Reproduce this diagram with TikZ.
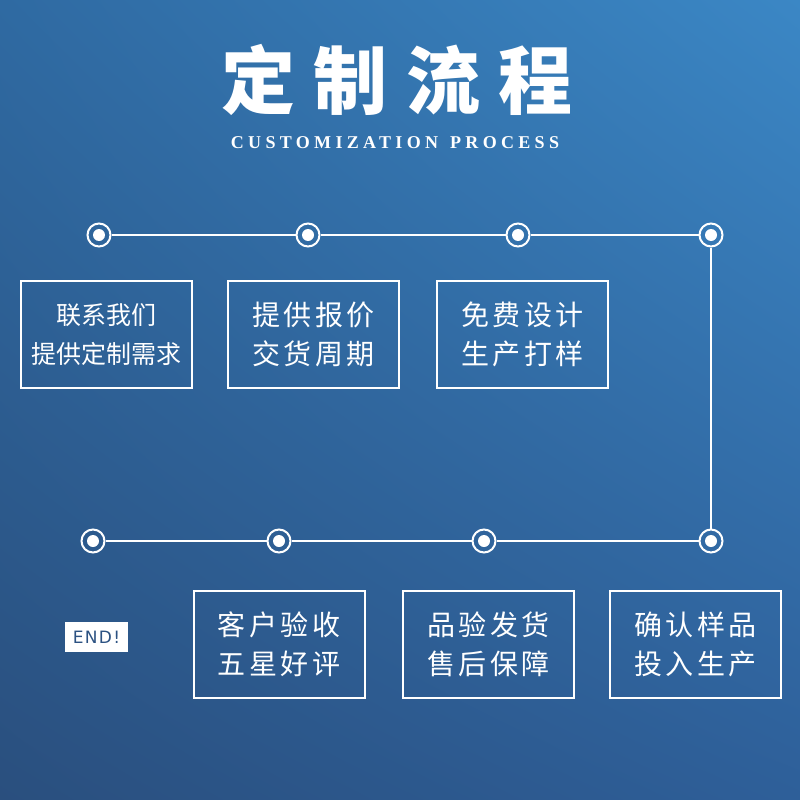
\documentclass[tikz,border=0pt]{standalone}
\usepackage{fontspec}
\usetikzlibrary{shadings}
\newfontfamily\cjk{Noto Sans CJK SC}
\newfontfamily\cjkwide[LetterSpace=12]{Noto Sans CJK SC}
\newfontfamily\cjktitle[LetterSpace=25]{Noto Sans CJK SC}
\newfontfamily\subfont[LetterSpace=24]{Liberation Serif}
\newfontfamily\endfont[LetterSpace=8]{DejaVu Sans}

\definecolor{bgtl}{HTML}{2F6AA2}
\definecolor{bgtr}{HTML}{3B87C5}
\definecolor{bgbl}{HTML}{2A4F7E}
\definecolor{bgbr}{HTML}{2E5F99}
\definecolor{endblue}{HTML}{2C5282}

\begin{document}
\begin{tikzpicture}[x=1pt,y=-1pt,
    dot/.style={circle,draw=white,line width=2pt,minimum size=23pt,inner sep=0pt,
      path picture={\fill[white] (path picture bounding box.center) circle (6pt);}},
    stepbox/.style={draw=white,line width=2pt,minimum width=171pt,minimum height=107pt,
      align=center,text=white,inner sep=0pt},
    link/.style={white,line width=2pt}]
  % background
  \shade[upper left=bgtl,upper right=bgtr,lower left=bgbl,lower right=bgbr]
    (0,0) rectangle (800,800);
  \useasboundingbox (0,0) rectangle (800,800);

  % title
  \node[text=white] (title) at (397,80)
    {\cjktitle\bfseries\fontsize{74}{74}\selectfont 定制流程};
  \node[text=white] (subtitle) at (395,143)
    {\subfont\bfseries\fontsize{18}{18}\selectfont CUSTOMIZATION\hspace{12pt}PROCESS};

  % top row
  \node[dot] (t1) at (99,235) {};
  \node[dot] (t2) at (308,235) {};
  \node[dot] (t3) at (518,235) {};
  \node[dot] (t4) at (711,235) {};
  % bottom row
  \node[dot] (b1) at (93,541) {};
  \node[dot] (b2) at (279,541) {};
  \node[dot] (b3) at (484,541) {};
  \node[dot] (b4) at (711,541) {};

  \draw[link] (t1) -- (t2) -- (t3) -- (t4);
  \draw[link] (t4) -- (b4);
  \draw[link] (b4) -- (b3) -- (b2) -- (b1);

  % steps
  \node[stepbox,font=\cjk\fontsize{25}{39}\selectfont] (s1) at (106.5,334.5)
    {联系我们\\提供定制需求};
  \node[stepbox,font=\cjkwide\fontsize{28}{39}\selectfont] (s2) at (313.5,334.5)
    {提供报价\\交货周期};
  \node[stepbox,font=\cjkwide\fontsize{28}{39}\selectfont] (s3) at (522.5,334.5)
    {免费设计\\生产打样};
  \node[stepbox,font=\cjkwide\fontsize{28}{39}\selectfont] (s4) at (695.5,644.5)
    {确认样品\\投入生产};
  \node[stepbox,font=\cjkwide\fontsize{28}{39}\selectfont] (s5) at (488.5,644.5)
    {品验发货\\售后保障};
  \node[stepbox,font=\cjkwide\fontsize{28}{39}\selectfont] (s6) at (279,644.5)
    {客户验收\\五星好评};

  \node[fill=white,text=endblue,minimum width=63pt,minimum height=30pt,inner sep=0pt,
    font=\endfont\fontsize{17}{17}\selectfont] (end) at (96.5,637) {END!};
\end{tikzpicture}
\end{document}
